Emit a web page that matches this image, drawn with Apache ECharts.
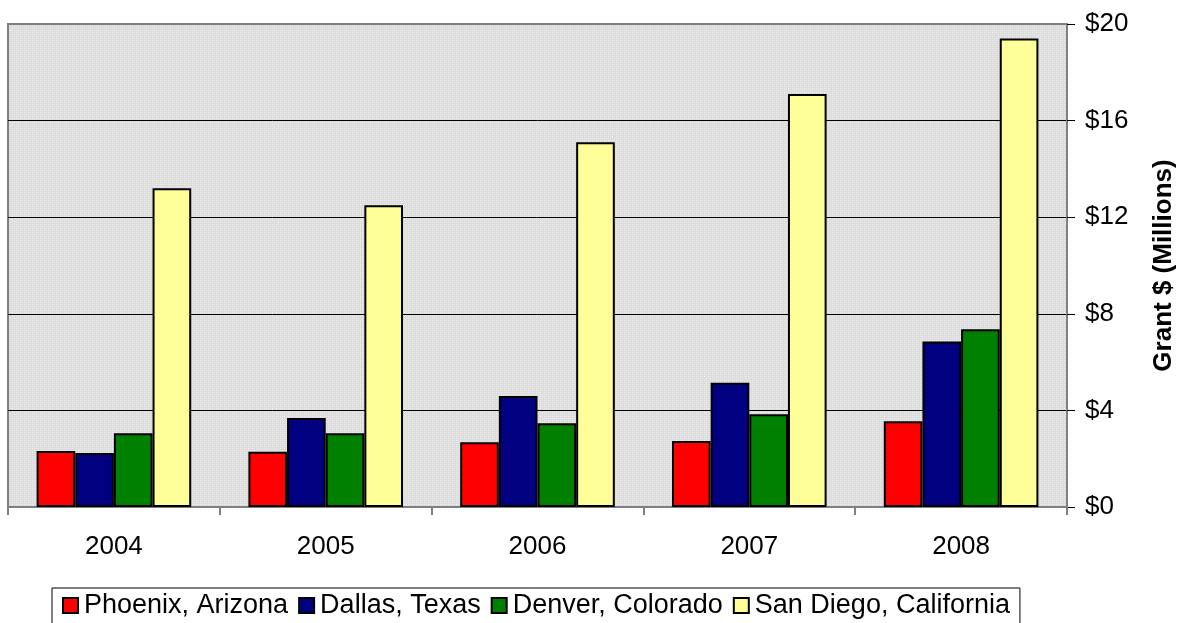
<!DOCTYPE html>
<html>
<head>
<meta charset="utf-8">
<script src="https://cdn.jsdelivr.net/npm/echarts@6/dist/echarts.min.js"></script>
<style>
  html, body { margin: 0; padding: 0; background: #ffffff; overflow: hidden; }
  #chart { width: 1178px; height: 623px; }
</style>
</head>
<body>
<div id="chart"></div>
<script>
// Grant amounts by city, in millions of dollars
const years = ['2004', '2005', '2006', '2007', '2008'];
const phoenix = [2.32, 2.29, 2.68, 2.73, 3.55];
const dallas = [2.24, 3.69, 4.60, 5.15, 6.85];
const denver = [3.05, 3.05, 3.47, 3.84, 7.36];
const sanDiego = [13.2, 12.5, 15.1, 17.1, 19.4];
const seriesNames = ['Phoenix, Arizona', 'Dallas, Texas', 'Denver, Colorado', 'San Diego, California'];
const seriesColors = ['#ff0000', '#000080', '#008000', '#ffff99'];
const yTicks = { min: 0, max: 20, step: 4 };

// Fine dotted gray fill for the plot area
function dottedPattern() {
  const c = document.createElement('canvas');
  c.width = 4; c.height = 4;
  const g = c.getContext('2d');
  g.fillStyle = '#dcdcdc';
  g.fillRect(0, 0, 4, 4);
  g.fillStyle = '#f2f2f2';
  g.fillRect(0, 0, 1, 1);
  g.fillRect(2, 2, 1, 1);
  g.fillStyle = '#e6e6e6';
  g.fillRect(2, 0, 1, 1);
  g.fillRect(0, 2, 1, 1);
  return c;
}

const chart = echarts.init(document.getElementById('chart'), null, { renderer: 'canvas' });
const font = 'Liberation Sans, Arial, sans-serif';
const values = [phoenix, dallas, denver, sanDiego];

chart.setOption({
  animation: false,
  textStyle: { fontFamily: font },
  grid: {
    left: 8, right: 111, top: 24, bottom: 116,
    outerBoundsMode: 'none',
    containLabel: false,
    show: true,
    backgroundColor: { image: dottedPattern(), repeat: 'repeat' },
    borderColor: '#808080',
    borderWidth: 2
  },
  legend: {
    data: seriesNames,
    left: 52, top: 588,
    padding: [4, 10, 20, 10],
    borderColor: '#000000',
    borderWidth: 1,
    borderRadius: 0,
    itemWidth: 15, itemHeight: 15,
    itemGap: 10,
    icon: 'rect',
    textStyle: { fontSize: 27, color: '#000000', fontFamily: font, padding: [0, 0, 0, 1] }
  },
  xAxis: {
    type: 'category',
    data: years,
    axisLine: { lineStyle: { color: '#808080', width: 2 } },
    axisTick: { show: true, length: 8, alignWithLabel: false, lineStyle: { color: '#808080', width: 2 } },
    axisLabel: { fontSize: 26, color: '#000000', margin: 27, fontFamily: font },
    splitLine: { show: false }
  },
  yAxis: {
    type: 'value',
    position: 'right',
    min: yTicks.min, max: yTicks.max, interval: yTicks.step,
    name: 'Grant $ (Millions)',
    nameLocation: 'middle',
    nameRotate: 90,
    nameGap: 84,
    nameMoveOverlap: false,
    nameTextStyle: { fontSize: 26, fontWeight: 'bold', color: '#000000', fontFamily: font },
    axisLine: { show: true, lineStyle: { color: '#808080', width: 2 } },
    axisTick: { show: true, length: 8, lineStyle: { color: '#000000', width: 1 } },
    axisLabel: { fontSize: 26, color: '#000000', margin: 18, fontFamily: font, formatter: '${value}' },
    splitLine: {
      show: true,
      lineStyle: { color: ['#808080', '#000000', '#000000', '#000000', '#000000', '#808080'], width: 1 }
    }
  },
  series: seriesNames.map((name, i) => ({
    name: name,
    type: 'bar',
    data: values[i],
    barGap: '0%',
    barCategoryGap: '27%',
    itemStyle: { color: seriesColors[i], borderColor: '#000000', borderWidth: 2 }
  }))
});
</script>
</body>
</html>
